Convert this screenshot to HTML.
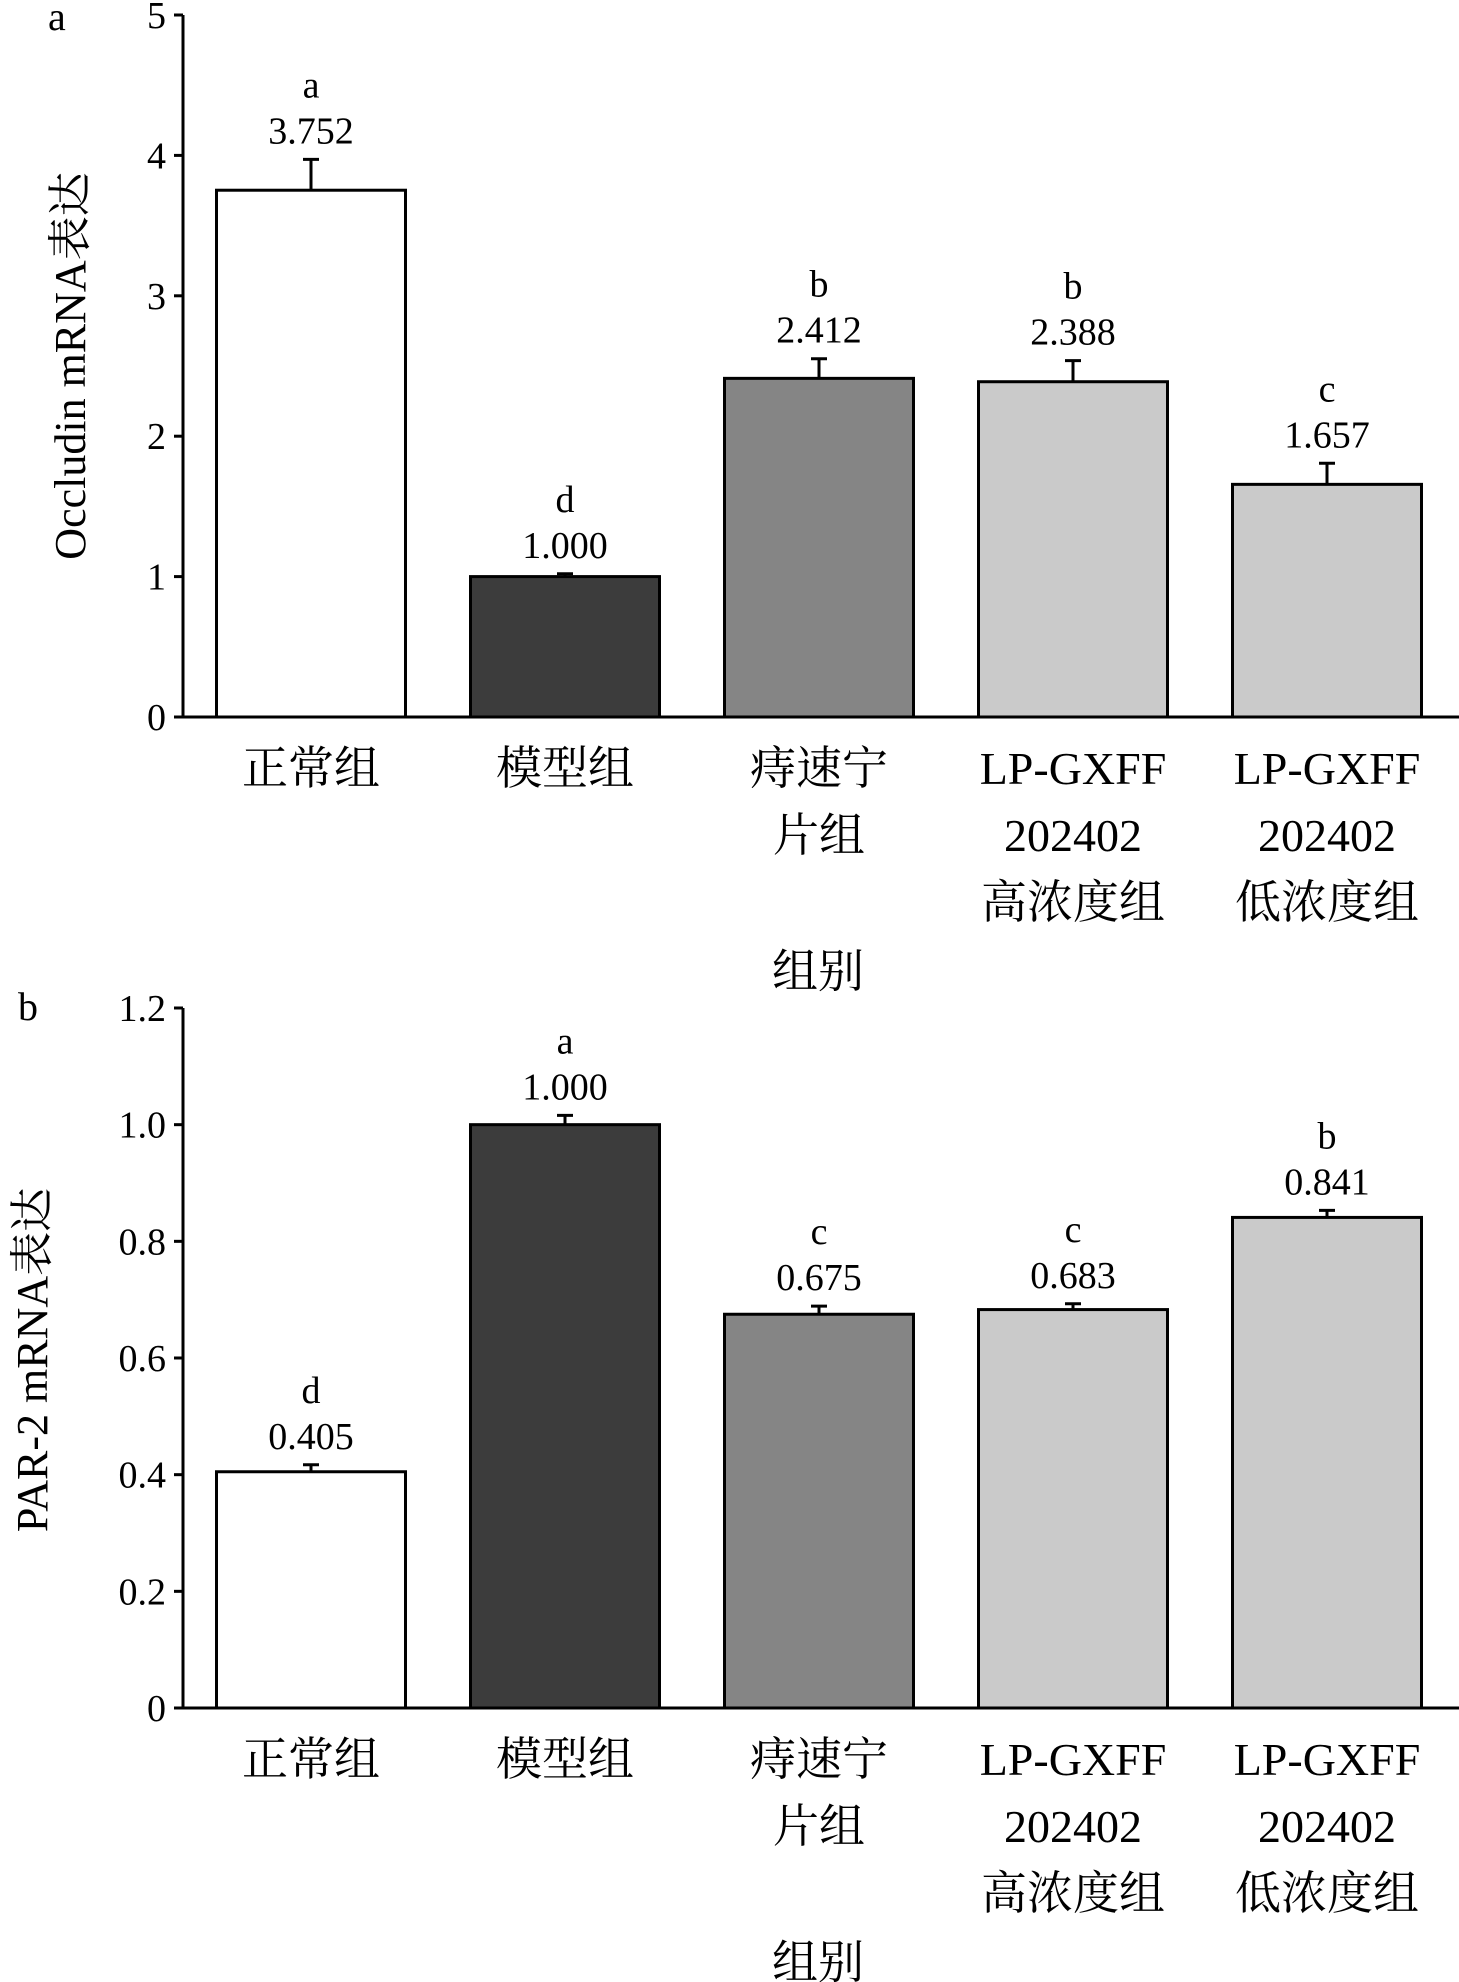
<!DOCTYPE html>
<html><head><meta charset="utf-8"><style>
html,body{margin:0;padding:0;background:#fff}
svg{display:block}
text{font-family:"Liberation Serif","Noto Serif CJK SC",serif;fill:#000}
</style></head><body>
<svg id="chart" width="1459" height="1982" viewBox="0 0 1459 1982" xmlns="http://www.w3.org/2000/svg"></svg>
<script>
const categories = [["正常组"],["模型组"],["痔速宁","片组"],["LP-GXFF","202402","高浓度组"],["LP-GXFF","202402","低浓度组"]];
const fills = ["#ffffff","#3c3c3c","#858585","#cacaca","#cacaca"];
const occludinValues = [3.752,1.000,2.412,2.388,1.657];
const occludinErrors = [0.22,0.02,0.14,0.15,0.15];
const occludinLetters = ["a","d","b","b","c"];
const occludinTicks = [0,1,2,3,4,5];
const occludinTickLabels = ["0","1","2","3","4","5"];
const par2Values = [0.405,1.000,0.675,0.683,0.841];
const par2Errors = [0.012,0.016,0.014,0.01,0.012];
const par2Letters = ["d","a","c","c","b"];
const par2Ticks = [0,0.2,0.4,0.6,0.8,1.0,1.2];
const par2TickLabels = ["0","0.2","0.4","0.6","0.8","1.0","1.2"];

const svg = document.getElementById('chart');
const NS = 'http://www.w3.org/2000/svg';
function mk(tag, attrs, parent){const e=document.createElementNS(NS,tag);for(const k in attrs)e.setAttribute(k,attrs[k]);(parent||svg).appendChild(e);return e;}

function panel(o){
  const g = mk('g',{});
  
  
  const y = v => o.y0 - (v - 0) / o.max * (o.y0 - o.yTop);
  const xc = i => 311 + i*254;
  const bw = 189;
  // panel letter
  const pl = mk('text',{x:o.letterX,y:o.letterY,'font-size':40},g);
  pl.textContent=o.id;
  
  
  // bars
  o.values.forEach((v,i)=>{
    const top=y(v);
    const r=mk('rect',{x:xc(i)-bw/2,y:top,width:bw,height:o.y0-top,fill:fills[i],stroke:'#000','stroke-width':3},g);
    
    
    const et=y(v+o.errors[i]);
    const eb=mk('path',{d:`M${xc(i)} ${top} V${et} M${xc(i)-8} ${et} H${xc(i)+8}`,stroke:'#000','stroke-width':3,fill:'none'},g);
    
    
    const vt=mk('text',{x:xc(i),y:et-16,'font-size':38,'text-anchor':'middle'},g);
    vt.textContent=v.toFixed(3);
    
    
    const lt=mk('text',{x:xc(i),y:et-62,'font-size':38,'text-anchor':'middle'},g);
    lt.textContent=o.letters[i];
    
    
  });
  // axes
  const ax=mk('path',{d:`M183 ${o.yTop} V${o.y0} H1459`,stroke:'#000','stroke-width':3,fill:'none'},g);
  
  
  o.ticks.forEach((t,i)=>{
    const ty=y(t);
    const tk=mk('path',{d:`M174 ${ty} H183`,stroke:'#000','stroke-width':3},g);
    
    
    const tl=mk('text',{x:166,y:ty+13,'font-size':38,'text-anchor':'end'},g);
    tl.textContent=o.tickLabels[i];
    
    
  });
  // categories
  categories.forEach((lines,i)=>{
    lines.forEach((s,j)=>{
      const ct=mk('text',{x:xc(i),y:o.y0+67+j*67,'font-size':46,'text-anchor':'middle'},g);
      ct.textContent=s;
      
      
    });
  });
  const xt=mk('text',{x:818,y:o.y0+270,'font-size':46,'text-anchor':'middle'},g);
  xt.textContent='组别';
  
  
  const yt=mk('text',{x:0,y:0,'font-size':44,'text-anchor':'middle',transform:`translate(${o.titleX},${o.titleY}) rotate(-90)`},g);
  yt.textContent=o.title;
  
  
}
panel({id:'a',values:occludinValues,errors:occludinErrors,letters:occludinLetters,ticks:occludinTicks,tickLabels:occludinTickLabels,max:5,y0:717,yTop:15,letterX:48,letterY:30,title:'Occludin mRNA表达',titleX:85,titleY:366});
panel({id:'b',values:par2Values,errors:par2Errors,letters:par2Letters,ticks:par2Ticks,tickLabels:par2TickLabels,max:1.2,y0:1708,yTop:1008,letterX:18,letterY:1020,title:'PAR-2 mRNA表达',titleX:47,titleY:1360});
</script>
</body></html>
